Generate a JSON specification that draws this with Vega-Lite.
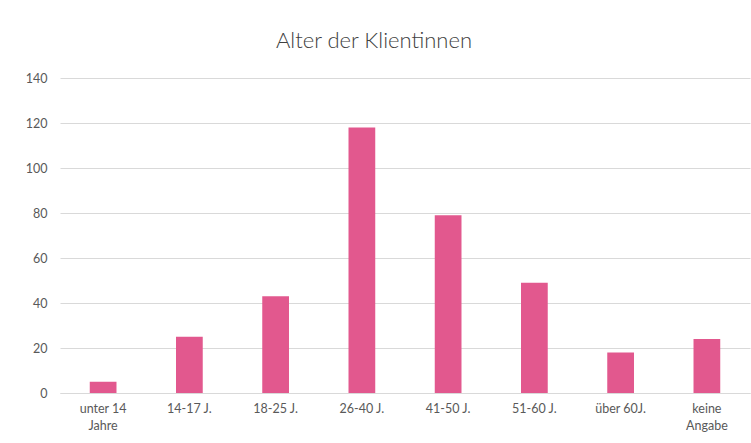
{
  "$schema": "https://vega.github.io/schema/vega-lite/v6.json",
  "width": 690,
  "height": 315,
  "autosize": {"type": "none"},
  "padding": {"left": 60, "top": 78, "right": 1, "bottom": 50},
  "background": "white",
  "title": {
    "text": "Alter der Klientinnen",
    "font": "Lato",
    "fontSize": 22,
    "fontWeight": 300,
    "color": "#404040",
    "anchor": "middle",
    "dx": -31,
    "offset": 19
  },
  "data": {
    "values": [
      {"kategorie": "unter 14 Jahre", "anzahl": 5},
      {"kategorie": "14-17 J.", "anzahl": 25},
      {"kategorie": "18-25 J.", "anzahl": 43},
      {"kategorie": "26-40 J.", "anzahl": 118},
      {"kategorie": "41-50 J.", "anzahl": 79},
      {"kategorie": "51-60 J.", "anzahl": 49},
      {"kategorie": "über 60J.", "anzahl": 18},
      {"kategorie": "keine Angabe", "anzahl": 24}
    ]
  },
  "mark": {"type": "bar", "color": "#E2588E"},
  "encoding": {
    "x": {
      "field": "kategorie",
      "type": "nominal",
      "sort": null,
      "scale": {"paddingInner": 0.69, "paddingOuter": 0.345},
      "axis": {
        "title": null,
        "labelAngle": 0,
        "labelFont": "Lato",
        "labelFontSize": 12.5,
        "labelFontWeight": "normal",
        "labelColor": "#595959",
        "labelPadding": 9,
        "labelLineHeight": 17,
        "ticks": false,
        "domainColor": "#d9d9d9",
        "labelExpr": "datum.value == 'unter 14 Jahre' ? ['unter 14', 'Jahre'] : datum.value == 'keine Angabe' ? ['keine', 'Angabe'] : datum.value"
      }
    },
    "y": {
      "field": "anzahl",
      "type": "quantitative",
      "scale": {"domain": [0, 140]},
      "axis": {
        "title": null,
        "values": [0, 20, 40, 60, 80, 100, 120, 140],
        "labelFont": "Lato",
        "labelFontSize": 12.5,
        "labelFontWeight": "normal",
        "labelColor": "#595959",
        "labelPadding": 13,
        "ticks": false,
        "domain": false,
        "gridColor": "#d9d9d9"
      }
    }
  },
  "config": {"view": {"stroke": null}}
}
